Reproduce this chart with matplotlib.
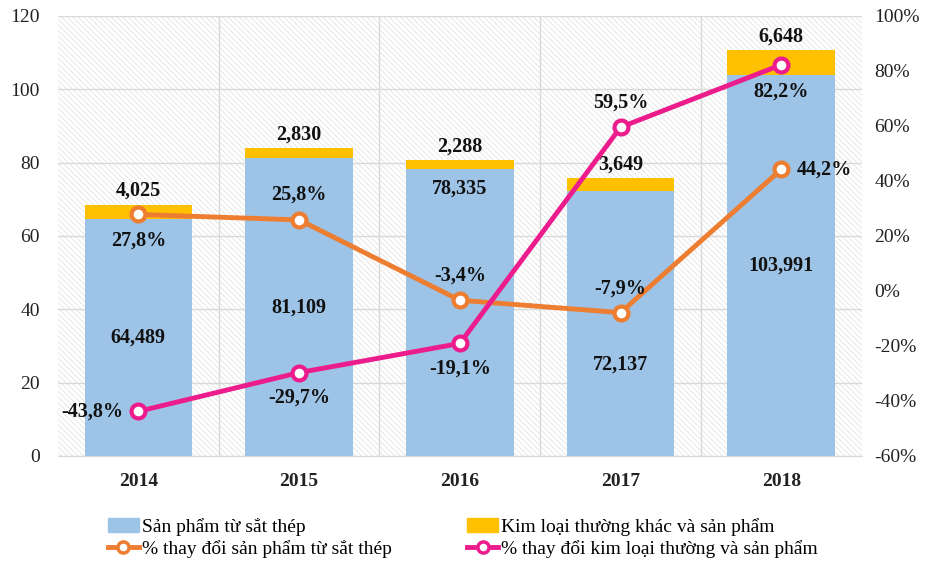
import numpy as np
import matplotlib
matplotlib.use("Agg")
from matplotlib import pyplot as plt
from matplotlib.patches import Rectangle, Patch
from matplotlib.lines import Line2D

plt.rcParams['font.family'] = ['Liberation Serif', 'DejaVu Serif']
plt.rcParams['hatch.linewidth'] = 0.5

years = ['2014', '2015', '2016', '2017', '2018']
thep = [64.489, 81.109, 78.335, 72.137, 103.991]
kimloai = [4.025, 2.830, 2.288, 3.649, 6.648]
pct_thep = [27.8, 25.8, -3.4, -7.9, 44.2]
pct_kl = [-43.8, -29.7, -19.1, 59.5, 82.2]

lbl_thep = ['64,489', '81,109', '78,335', '72,137', '103,991']
lbl_kl = ['4,025', '2,830', '2,288', '3,649', '6,648']
lbl_pt = ['27,8%', '25,8%', '-3,4%', '-7,9%', '44,2%']
lbl_pk = ['-43,8%', '-29,7%', '-19,1%', '59,5%', '82,2%']

c_blue = '#9DC3E6'
c_gold = '#FFC000'
c_orange = '#ED7D31'
c_pink = '#EC1C8C'
c_grid = '#d9d9d9'

fig = plt.figure(figsize=(9.28, 5.65), dpi=100)
ax = fig.add_axes([0.0625, 0.193, 0.866, 0.779])
x = np.arange(len(years))

ax.add_patch(Rectangle((0, 0), 1, 1, transform=ax.transAxes, facecolor='white',
                       hatch='\\\\\\\\\\\\', edgecolor='#dedede', lw=0, zorder=0))
ax.bar(x, thep, width=0.67, color=c_blue, zorder=2)
ax.bar(x, kimloai, width=0.67, bottom=thep, color=c_gold, zorder=2)

ax.set_xlim(-0.5, 4.5)
ax.set_ylim(0, 120)
ax.set_yticks(range(0, 121, 20))
ax.yaxis.grid(True, color=c_grid, lw=1, zorder=1)
for b in np.arange(0.5, 4.5, 1):
    ax.axvline(b, color=c_grid, lw=1, zorder=1)
ax.set_xticks(x)
ax.set_xticklabels(years, fontweight='bold', fontsize=14)
ax.tick_params(axis='both', length=0, labelsize=14, colors='#222222')
ax.tick_params(axis='x', pad=12)
ax.tick_params(axis='y', pad=13)
for s in ['left', 'right', 'top']:
    ax.spines[s].set_visible(False)
ax.spines['bottom'].set_color(c_grid)

ax2 = ax.twinx()
ax2.set_ylim(-60, 100)
ax2.set_yticks(range(-60, 101, 20))
ax2.set_yticklabels([f'{v}%' for v in range(-60, 101, 20)])
ax2.tick_params(axis='y', length=0, labelsize=14, colors='#222222', pad=9)
for s in ax2.spines.values():
    s.set_visible(False)

ax2.plot(x, pct_thep, color=c_orange, lw=3.5, marker='o', ms=10, mfc='white',
         mec=c_orange, mew=3, zorder=4)
ax2.plot(x, pct_kl, color=c_pink, lw=3.5, marker='o', ms=10, mfc='white',
         mec=c_pink, mew=3, zorder=4)

bold = dict(fontsize=14.5, fontweight='bold', color='#111111', ha='center', va='center')

# bar labels; a few are moved off the middle of the bar so lines don't cover them
label_y = {2: 73, 3: 25}
for i in range(5):
    ax.text(x[i], label_y.get(i, thep[i] / 2), lbl_thep[i], zorder=5, **bold)
    ax.annotate(lbl_kl[i], (x[i], thep[i] + kimloai[i]), xytext=(0, 10),
                textcoords='offset points', **bold)

# percent labels (offsets in points)
off_pt = [(0, -19), (0, 18), (0, 18), (0, 17), (31, 0)]
off_pk = [(-33, 0), (0, -18), (0, -18), (0, 18), (0, -19)]
for i in range(5):
    ax2.annotate(lbl_pt[i], (x[i], pct_thep[i]), xytext=off_pt[i],
                 textcoords='offset points', zorder=5, **bold)
    ax2.annotate(lbl_pk[i], (x[i], pct_kl[i]), xytext=off_pk[i],
                 textcoords='offset points', zorder=5, **bold)

handles = [Patch(color=c_blue),
           Line2D([], [], color=c_orange, lw=3.5, marker='o', ms=8, mfc='white', mec=c_orange, mew=2.5),
           Patch(color=c_gold),
           Line2D([], [], color=c_pink, lw=3.5, marker='o', ms=8, mfc='white', mec=c_pink, mew=2.5)]
labels = ['Sản phẩm từ sắt thép', '% thay đổi sản phẩm từ sắt thép',
          'Kim loại thường khác và sản phẩm', '% thay đổi kim loại thường và sản phẩm']
fig.legend(handles, labels, ncol=2, loc='lower left', bbox_to_anchor=(0.097, -0.018),
           frameon=False, fontsize=14, handlelength=1.6, handletextpad=0.15,
           columnspacing=3.9, labelspacing=0.2)

fig.savefig('out.png', dpi=100)
